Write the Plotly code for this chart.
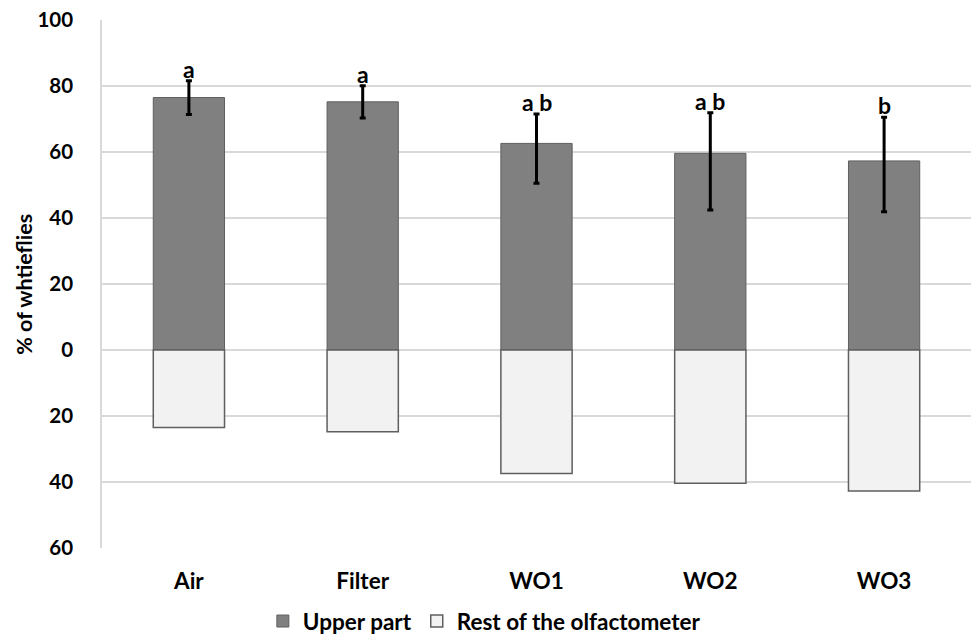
import plotly.graph_objects as go

categories = ["Air", "Filter", "WO1", "WO2", "WO3"]
upper = [76.5, 75.2, 62.6, 59.6, 57.3]
rest = [23.5, 24.8, 37.4, 40.4, 42.7]
err_plus = [5.1, 4.9, 8.9, 12.3, 13.2]
err_minus = [5.1, 4.9, 12.1, 17.2, 15.4]
letters = ["a", "a", "a b", "a b", "b"]
tick_vals = [-60, -40, -20, 0, 20, 40, 60, 80, 100]
tick_text = ["60", "40", "20", "0", "20", "40", "60", "80", "100"]

FONT = "Lato"

def bfont(size):
    return dict(family=FONT, size=size, color="black", weight="bold")

fig = go.Figure()
fig.add_trace(go.Bar(
    x=categories, y=upper, name="Upper part",
    marker=dict(color="#808080", line=dict(color="#5f5f5f", width=1)),
    error_y=dict(type="data", array=err_plus, arrayminus=err_minus,
                 symmetric=False, color="black", thickness=3, width=3),
))
fig.add_trace(go.Bar(
    x=categories, y=[-v for v in rest], name="Rest of the olfactometer",
    marker=dict(color="#f2f2f2", line=dict(color="#5f5f5f", width=1.5)),
))

for c, u, e, t in zip(categories, upper, err_plus, letters):
    fig.add_annotation(x=c, y=u + e, text=t.replace(" ", "&nbsp;"), showarrow=False,
                       yanchor="bottom", yshift=-4, font=bfont(23))

# y-axis title as a rotated annotation
fig.add_annotation(xref="paper", yref="paper", x=-0.09, y=0.5,
                   xanchor="center", yanchor="middle", textangle=-90,
                   text="% of whtieflies", showarrow=False, font=bfont(21.5))

fig.update_layout(
    barmode="relative",
    bargap=0.59,
    width=973, height=634,
    margin=dict(l=102, r=2, t=20, b=86, autoexpand=False),
    plot_bgcolor="white", paper_bgcolor="white",
    font=bfont(20),
    showlegend=True,
    legend=dict(orientation="h", x=0.44, xanchor="center", y=-0.139, yanchor="middle",
                font=bfont(22.5), itemwidth=30, traceorder="normal"),
    xaxis=dict(showgrid=False, showline=False, automargin=False,
               ticks="outside", ticklen=13, tickcolor="rgba(0,0,0,0)",
               tickfont=bfont(22.5)),
    yaxis=dict(range=[-60, 100], tickvals=tick_vals, ticktext=tick_text,
               automargin=False,
               showgrid=True, gridcolor="#d9d9d9", gridwidth=1.5,
               zeroline=True, zerolinecolor="#d9d9d9", zerolinewidth=1.5,
               showline=True, linecolor="#d9d9d9", linewidth=1.5,
               ticks="outside", ticklen=23, tickcolor="rgba(0,0,0,0)",
               tickfont=bfont(20.5)),
)

fig.write_html("out.html")
